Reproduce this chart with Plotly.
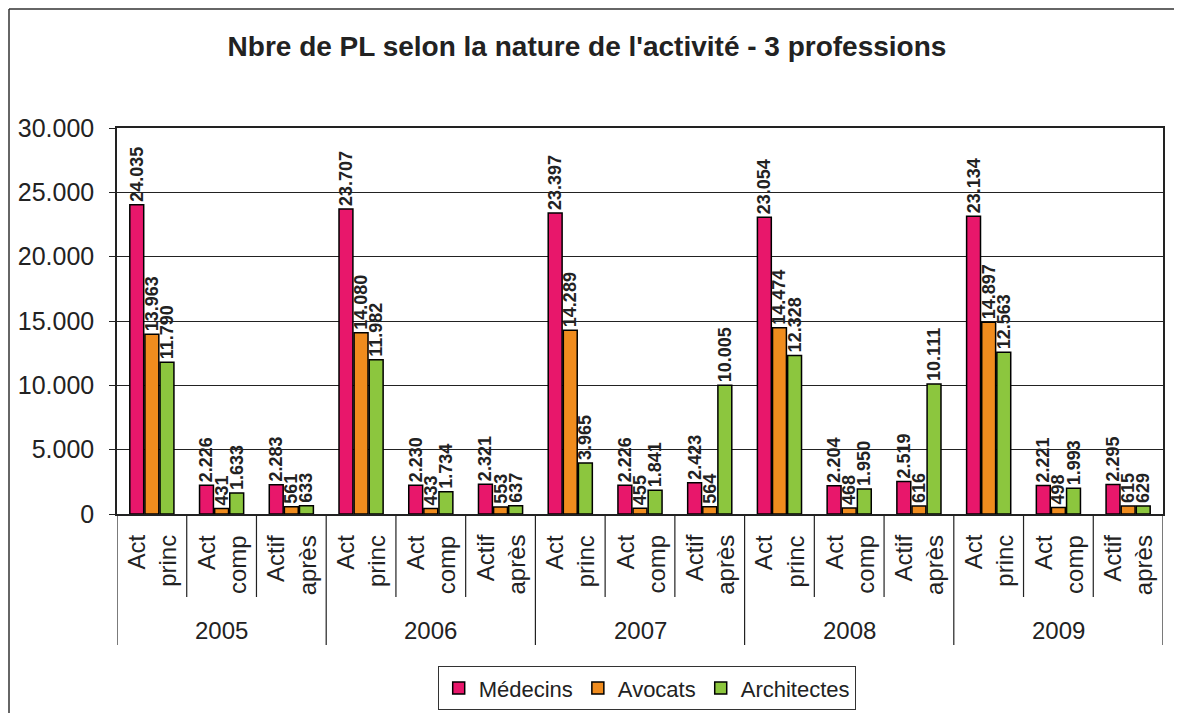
import plotly.graph_objects as go

years = ['2005', '2006', '2007', '2008', '2009']
sub_labels = ['Act<br>princ', 'Act<br>comp', 'Actif<br>après']

medecins = [24035, 2226, 2283, 23707, 2230, 2321, 23397, 2226, 2423,
            23054, 2204, 2519, 23134, 2221, 2295]
avocats = [13963, 431, 561, 14080, 433, 553, 14289, 455, 564,
           14474, 468, 616, 14897, 498, 615]
architectes = [11790, 1633, 633, 11982, 1734, 637, 3965, 1841, 10005,
               12328, 1950, 10111, 12563, 1993, 629]

series = [('Médecins', medecins, '#E8176B'),
          ('Avocats', avocats, '#F08C1E'),
          ('Architectes', architectes, '#8CC63E')]

# page has an 8px body margin, so the figure is made 8px smaller
OFF = 8
W, H = 1182 - OFF, 713 - OFF
L, R, T, B = 117 - OFF, 19, 128 - OFF, 199
pw, ph = W - L - R, H - T - B


def py(pix):
    # page pixel y -> paper y
    return (T + ph - (pix - OFF)) / ph


def px(pix):
    return (pix - OFF - L) / pw


n = len(medecins)
xs = list(range(n))

fig = go.Figure()
for name, vals, col in series:
    fig.add_trace(go.Bar(
        x=xs, y=vals, name=name,
        marker=dict(color=col, line=dict(color='black', width=1.5)),
        text=vals, texttemplate='%{y:,d}', textposition='outside',
        textangle=-90, constraintext='none', cliponaxis=False,
        textfont=dict(family='Liberation Sans', size=18, color='#222',
                      weight='bold'),
    ))

annotations = []
shapes = []
for i in xs:
    annotations.append(dict(
        x=i, xref='x', y=py(533), yref='paper', text=sub_labels[i % 3],
        textangle=-90, showarrow=False, align='right',
        xanchor='center', yanchor='top',
        font=dict(family='Liberation Sans', size=24, color='#222')))
for k, yr in enumerate(years):
    annotations.append(dict(
        x=3 * k + 1, xref='x', y=py(630), yref='paper', text=yr,
        showarrow=False, xanchor='center', yanchor='middle',
        font=dict(family='Liberation Sans', size=24, color='#222')))

# divider lines under the axis
for i in range(n + 1):
    bottom = 645 if i % 3 == 0 else 597
    shapes.append(dict(type='line', xref='x', yref='paper',
                       x0=i - 0.5, x1=i - 0.5, y0=0, y1=py(bottom),
                       line=dict(color='#222', width=1.2)))

# outer frame (left and top edges visible)
shapes.append(dict(type='line', xref='paper', yref='paper',
                   x0=px(9), x1=px(9), y0=py(9), y1=py(713),
                   line=dict(color='#333', width=1.5)))
shapes.append(dict(type='line', xref='paper', yref='paper',
                   x0=px(9), x1=px(1182), y0=py(9), y1=py(9),
                   line=dict(color='#333', width=1.5)))

fig.update_layout(
    width=W, height=H,
    margin=dict(l=L, r=R, t=T, b=B, autoexpand=False),
    paper_bgcolor='white', plot_bgcolor='white',
    separators=',.',
    barmode='group', bargap=0.35, bargroupgap=0.08,
    font=dict(family='Liberation Sans', color='#222'),
    title=dict(text="<b>Nbre de PL selon la nature de l'activité - 3 professions</b>",
               x=(587 - OFF) / W, xref='container', xanchor='center',
               y=1 - (46 - OFF) / H, yanchor='middle', automargin=False,
               font=dict(family='Liberation Sans', size=28, color='#222')),
    xaxis=dict(range=[-0.5, n - 0.5], showticklabels=False, ticks='',
               showgrid=False, zeroline=False, showline=True,
               linecolor='#222', linewidth=1.5, mirror=True,
               automargin=False),
    yaxis=dict(range=[0, 30000], dtick=5000, tickformat=',d',
               showgrid=True, gridcolor='#222', gridwidth=1.2,
               zeroline=False, showline=True, linecolor='#222',
               linewidth=1.5, mirror=True, ticks='outside', ticklen=6,
               tickcolor='#222', automargin=False, ticklabelstandoff=10,
               tickfont=dict(family='Liberation Sans', size=25, color='#222')),
    showlegend=True,
    legend=dict(orientation='h', x=px(647), xanchor='center',
                y=py(666), yanchor='top',
                bordercolor='#333', borderwidth=1.2,
                font=dict(family='Liberation Sans', size=22, color='#222'),
                itemwidth=30, tracegroupgap=0),
    annotations=annotations, shapes=shapes,
)

fig.write_html('out.html')
